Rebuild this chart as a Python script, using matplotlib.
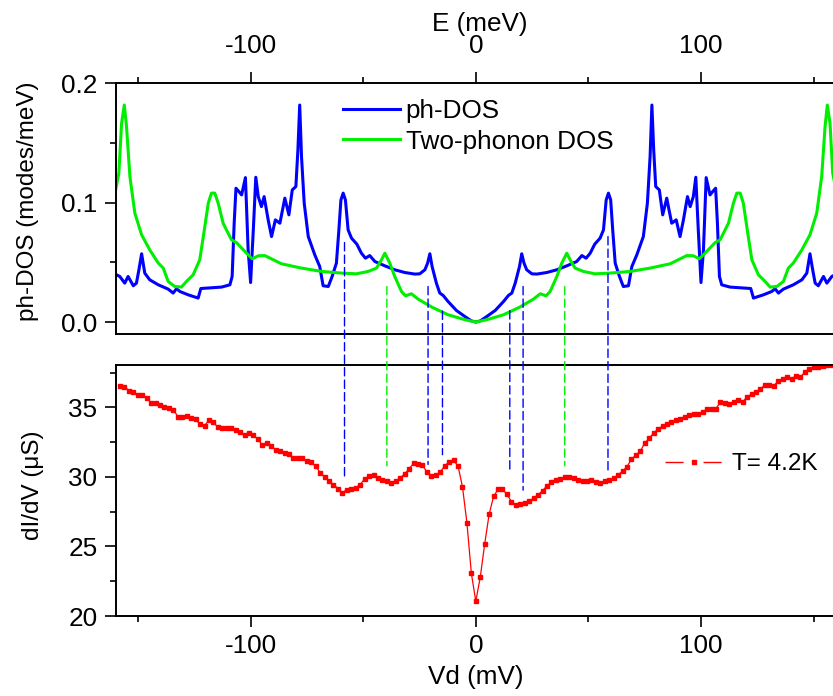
import numpy as np
import matplotlib
matplotlib.use("Agg")
import matplotlib.pyplot as plt
from matplotlib.ticker import MultipleLocator, FormatStrFormatter
from matplotlib.patches import ConnectionPatch
from matplotlib.lines import Line2D

plt.rcParams['font.family'] = ['Liberation Sans', 'DejaVu Sans']
plt.rcParams['font.size'] = 18.8
plt.rcParams['axes.unicode_minus'] = False

# phonon DOS, positive-energy half (curves are mirrored about E = 0)
e_ph = [0.0, 2.0, 4.9, 8.6, 12.3, 14.5, 16.0, 17.5, 19.4, 20.4, 21.4, 22.6, 24.9,
        27.1, 31.5, 36.0, 40.4, 44.8, 47.1, 49.0, 50.8, 52.8, 55.2, 56.7, 57.9,
        58.9, 59.9, 60.8, 61.9, 63.8, 65.5, 67.8, 69.3, 71.5, 74.4, 76.2, 77.4,
        78.2, 79.0, 79.9, 81.5, 83.0, 84.8, 85.8, 87.0, 89.0, 90.7, 92.2, 94.0,
        95.2, 96.6, 97.7, 98.8, 100.0, 101.1, 102.3, 104.0, 105.2, 106.5, 107.3,
        108.2, 109.2, 112.9, 117.4, 122.1, 123.3, 127.7, 131.4, 132.9, 134.4,
        136.6, 141.0, 144.8, 147.0, 148.4, 149.6, 150.7, 152.1, 154.4, 155.9,
        158.1, 160.0]
dos_ph = [0.0, 0.001, 0.0047, 0.0097, 0.0172, 0.0223, 0.0243, 0.0326, 0.0465,
          0.0572, 0.0494, 0.0438, 0.0404, 0.0402, 0.0415, 0.0438, 0.0471, 0.0507,
          0.0557, 0.0535, 0.0577, 0.0652, 0.0703, 0.0772, 0.1023, 0.108, 0.1023,
          0.0772, 0.0494, 0.0382, 0.0298, 0.0304, 0.0465, 0.0563, 0.0716, 0.0996,
          0.1386, 0.1818, 0.1442, 0.1135, 0.1107, 0.0898, 0.1038, 0.094, 0.0828,
          0.0856, 0.0716, 0.0856, 0.1051, 0.0967, 0.1051, 0.1213, 0.0772, 0.0331,
          0.0605, 0.1210, 0.1065, 0.1093, 0.1121, 0.0828, 0.0382, 0.0312, 0.0293,
          0.0287, 0.0281, 0.0201, 0.0228, 0.0256, 0.0279, 0.0243, 0.0276, 0.0312,
          0.0354, 0.041, 0.0572, 0.0438, 0.0326, 0.0304, 0.0382, 0.0326, 0.0382,
          0.040]

e_two = [0.0, 4.9, 12.3, 19.5, 25.6, 28.6, 31.2, 33.0, 36.0, 38.2, 40.4, 41.9,
         44.1, 47.8, 53.0, 59.6, 68.5, 77.4, 86.3, 93.7, 96.6, 99.3, 101.8, 106.3,
         108.5, 112.2, 114.4, 115.9, 117.4, 118.8, 121.0, 122.6, 125.5, 128.5,
         130.7, 133.7, 136.6, 138.8, 141.0, 144.8, 148.4, 151.4, 153.6, 155.1,
         156.1, 157.3, 158.5, 160.0]
dos_two = [0.0, 0.002, 0.0061, 0.0125, 0.0192, 0.0237, 0.022, 0.0256, 0.0382,
           0.0494, 0.0577, 0.0521, 0.0452, 0.0424, 0.0404, 0.041, 0.0424, 0.0452,
           0.0488, 0.0557, 0.0555, 0.053, 0.0577, 0.0666, 0.0689, 0.0828, 0.0996,
           0.108, 0.108, 0.0996, 0.0716, 0.0521, 0.0396, 0.034, 0.0293, 0.0298,
           0.034, 0.0452, 0.0494, 0.0605, 0.0731, 0.0912, 0.1218, 0.1637, 0.1818,
           0.1665, 0.1247, 0.110]

# tunnelling conductance at 4.2 K
vd = np.linspace(-158, 158, 161)
didv = [36.57, 36.50, 36.21, 36.09, 35.90, 35.90, 35.71, 35.32, 35.32, 35.16,
        35.04, 34.94, 34.84, 34.34, 34.29, 34.39, 34.27, 34.15, 33.79, 33.69,
        34.08, 33.93, 33.57, 33.53, 33.50, 33.55, 33.36, 33.22, 33.02, 33.14,
        33.00, 32.71, 32.30, 32.47, 32.23, 31.94, 31.85, 31.75, 31.63, 31.39,
        31.37, 31.39, 31.13, 31.06, 30.77, 30.31, 30.00, 29.74, 29.45, 29.16,
        28.87, 29.09, 29.14, 29.21, 29.45, 29.86, 30.07, 30.14, 29.95, 29.81,
        29.71, 29.57, 29.69, 29.93, 30.22, 30.58, 30.98, 30.94, 30.84, 30.36,
        30.09, 30.14, 30.34, 30.79, 31.08, 31.20, 30.79, 29.30, 26.71, 23.07,
        21.06, 22.78, 25.18, 27.32, 28.60, 29.12, 29.12, 28.75, 28.23, 27.95,
        28.07, 28.10, 28.26, 28.49, 28.71, 29.01, 29.36, 29.62, 29.77, 29.88,
        29.97, 29.99, 29.95, 29.80, 29.69, 29.70, 29.75, 29.67, 29.55, 29.69,
        29.78, 29.92, 30.15, 30.42, 30.73, 31.29, 31.56, 31.85, 32.45, 32.78,
        33.17, 33.43, 33.67, 33.82, 33.97, 34.06, 34.19, 34.34, 34.42, 34.53,
        34.51, 34.70, 34.87, 34.90, 34.92, 35.37, 35.35, 35.23, 35.38, 35.52,
        35.40, 35.75, 35.95, 36.11, 36.32, 36.62, 36.62, 36.57, 36.88, 37.03,
        37.16, 37.06, 37.28, 37.20, 37.53, 37.79, 37.89, 37.92, 37.97, 38.04,
        38.07]

# dashed guide lines linking DOS features to the conductance
mark_x = [-58.3, -39.5, -21.2, -14.8, 15.1, 21.0, 39.5, 58.7]
mark_top = [0.0666, 0.0298, 0.0298, 0.0092, 0.0095, 0.0298, 0.0298, 0.0716]
mark_bot = [29.8, 30.8, 30.9, 31.6, 30.55, 29.05, 30.8, 30.3]
mark_col = ['#0000FF', '#00EE00', '#0000FF', '#0000FF', '#0000FF', '#0000FF',
            '#00EE00', '#0000FF']


def mirror(e, v):
    e = np.asarray(e)
    v = np.asarray(v)
    return np.concatenate([-e[::-1], e[1:]]), np.concatenate([v[::-1], v[1:]])


W, H = 833, 696
fig = plt.figure(figsize=(W / 100, H / 100), dpi=100)
ax1 = fig.add_axes([115.5 / W, 1 - 334 / H, 720.6 / W, (334 - 83.3) / H])
ax2 = fig.add_axes([115.5 / W, 1 - 616 / H, 720.6 / W, (616 - 365) / H])

x_ph, y_ph = mirror(e_ph, dos_ph)
x_two, y_two = mirror(e_two, dos_two)
l1, = ax1.plot(x_ph, y_ph, color='#0000FF', lw=2.2, label='ph-DOS')
l2, = ax1.plot(x_two, y_two, color='#00EE00', lw=2.2, label='Two-phonon DOS')

ax2.plot(vd, didv, color='red', lw=0.9, marker='s', ms=2.9, mec='red', mfc='red')

for ax in (ax1, ax2):
    ax.set_xlim(-160, 160)
    ax.xaxis.set_major_locator(MultipleLocator(100))
    ax.xaxis.set_minor_locator(MultipleLocator(50))
    ax.spines['right'].set_visible(False)
    for s in ax.spines.values():
        s.set_linewidth(1.4)
    ax.tick_params(which='both', direction='out', width=1.2, right=False)
    ax.tick_params(which='major', length=8)
    ax.tick_params(which='minor', length=4.5)

ax1.set_ylim(-0.01, 0.2)
ax1.yaxis.set_major_locator(MultipleLocator(0.1))
ax1.yaxis.set_minor_locator(MultipleLocator(0.05))
ax1.yaxis.set_major_formatter(FormatStrFormatter('%.1f'))
ax1.tick_params(axis='x', which='both', top=True, bottom=False,
                labeltop=True, labelbottom=False, pad=10)
ax1.tick_params(axis='y', pad=5)

ax2.set_ylim(20, 38.05)
ax2.yaxis.set_major_locator(MultipleLocator(5))
ax2.yaxis.set_minor_locator(MultipleLocator(2.5))
ax2.tick_params(axis='x', which='both', top=False, bottom=True, pad=5)
ax2.tick_params(axis='y', pad=5)

fig.text(480 / W, 1 - 24 / H, 'E (meV)', ha='center', va='center')
fig.text(476 / W, 1 - 677 / H, 'Vd (mV)', ha='center', va='center')
fig.text(28 / W, 1 - 201 / H, 'ph-DOS (modes/meV)', rotation=90, ha='center',
         va='center', fontsize=17.5)
fig.text(33 / W, 1 - 485 / H, 'dI/dV (μS)', rotation=90, ha='center',
         va='center', fontsize=17.5)

ax1.legend(handles=[l1, l2], loc='upper left', bbox_to_anchor=(343 / W, 1 - 99 / H),
           bbox_transform=fig.transFigure, frameon=False, borderpad=0,
           borderaxespad=0, handlelength=2.2, handletextpad=0.2, labelspacing=0.25)

h_line = Line2D([], [], color='red', lw=1.0, dashes=(13, 14.4))
h_mark = Line2D([], [], color='red', ls='none', marker='s', ms=3)
ax2.legend(handles=[(h_line, h_mark)], labels=['T= 4.2K'], loc='upper left',
           bbox_to_anchor=(665 / W, 1 - 453 / H), bbox_transform=fig.transFigure,
           frameon=False, borderpad=0, borderaxespad=0, handlelength=2.35,
           handletextpad=0.4, fontsize=17.5)

for x, yt, yb, c in zip(mark_x, mark_top, mark_bot, mark_col):
    con = ConnectionPatch(xyA=(x, yt), coordsA=ax1.transData,
                          xyB=(x, yb), coordsB=ax2.transData,
                          color=c, lw=1.0, linestyle=(0, (6, 3)))
    fig.add_artist(con)

fig.savefig('out.png', dpi=100)
